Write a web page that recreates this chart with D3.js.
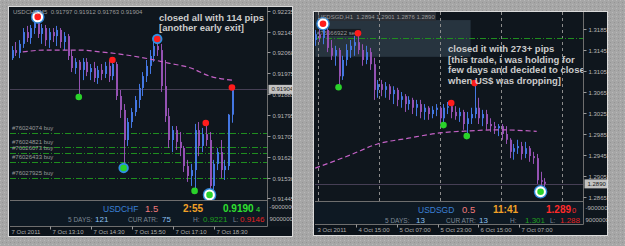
<!DOCTYPE html>
<html>
<head>
<meta charset="utf-8">
<script src="https://cdn.jsdelivr.net/npm/d3@7"></script>
<style>
  html, body { margin: 0; padding: 0; background: #a5a5a5; overflow: hidden; }
  svg { display: block; font-family: 'Liberation Sans', Arial, sans-serif; }
</style>
</head>
<body>
<svg id="chart" width="625" height="246"></svg>
<script>
// ---------- left chart: USDCHF M5 ----------
const chfTitle = 'USDCHF,M5  0.91797 0.91912 0.91763 0.91904'
const chfPriceTicks = [0.92235, 0.92145, 0.9206, 0.91975, 0.91885, 0.91795, 0.91705, 0.9162, 0.9153, 0.91445]
const chfLast = 0.91904
// [open, high, low, close]
const chfBars = [
  [0.92036, 0.92087, 0.92028, 0.92070], [0.92070, 0.92104, 0.92045, 0.92058], [0.92058, 0.92112, 0.92036, 0.92096],
  [0.92096, 0.92163, 0.92079, 0.92146], [0.92146, 0.92172, 0.92104, 0.92121], [0.92121, 0.92176, 0.92096, 0.92163],
  [0.92163, 0.92197, 0.92138, 0.92189], [0.92189, 0.92210, 0.92121, 0.92138], [0.92138, 0.92180, 0.92096, 0.92163],
  [0.92163, 0.92176, 0.92087, 0.92112], [0.92112, 0.92163, 0.92079, 0.92146], [0.92146, 0.92163, 0.92104, 0.92129],
  [0.92129, 0.92172, 0.92087, 0.92155], [0.92155, 0.92163, 0.92079, 0.92104], [0.92104, 0.92146, 0.92070, 0.92129],
  [0.92129, 0.92138, 0.92028, 0.92045], [0.92045, 0.92070, 0.91977, 0.91994], [0.91994, 0.92036, 0.91969, 0.92020],
  [0.92020, 0.92028, 0.91872, 0.91986], [0.91986, 0.92036, 0.91943, 0.92020], [0.92020, 0.92036, 0.91960, 0.91977],
  [0.91977, 0.92011, 0.91943, 0.91994], [0.91994, 0.92020, 0.91935, 0.91952], [0.91952, 0.92003, 0.91927, 0.91986],
  [0.91986, 0.92011, 0.91943, 0.91969], [0.91969, 0.92020, 0.91952, 0.92003], [0.92003, 0.92028, 0.91935, 0.91960],
  [0.91960, 0.92028, 0.91943, 0.92011], [0.92011, 0.92020, 0.91859, 0.91876], [0.91876, 0.91901, 0.91783, 0.91817],
  [0.91817, 0.91842, 0.91572, 0.91690], [0.91690, 0.91783, 0.91665, 0.91766], [0.91766, 0.91825, 0.91741, 0.91808],
  [0.91808, 0.91876, 0.91791, 0.91859], [0.91859, 0.91927, 0.91825, 0.91910], [0.91910, 0.91977, 0.91876, 0.91960],
  [0.91960, 0.92028, 0.91935, 0.92003], [0.92003, 0.92070, 0.91969, 0.92045], [0.92045, 0.92104, 0.92020, 0.92087],
  [0.92087, 0.92117, 0.92045, 0.92070], [0.92070, 0.92096, 0.91893, 0.91918], [0.91918, 0.92028, 0.91766, 0.91791],
  [0.91791, 0.91825, 0.91656, 0.91690], [0.91690, 0.91749, 0.91639, 0.91732], [0.91732, 0.91749, 0.91648, 0.91682],
  [0.91682, 0.91724, 0.91622, 0.91656], [0.91656, 0.91665, 0.91555, 0.91580], [0.91580, 0.91606, 0.91513, 0.91538],
  [0.91538, 0.91589, 0.91496, 0.91563], [0.91563, 0.91758, 0.91475, 0.91732], [0.91732, 0.91766, 0.91622, 0.91665],
  [0.91665, 0.91741, 0.91639, 0.91715], [0.91715, 0.91762, 0.91665, 0.91690], [0.91690, 0.91724, 0.91458, 0.91496],
  [0.91496, 0.91606, 0.91479, 0.91589], [0.91589, 0.91656, 0.91563, 0.91639], [0.91639, 0.91690, 0.91529, 0.91563],
  [0.91563, 0.91606, 0.91521, 0.91580], [0.91580, 0.91800, 0.91563, 0.91797], [0.91797, 0.91912, 0.91763, 0.91904],
]
// moving average read at a few bars: [bar, price]
const chfMa = [[3, 0.92062], [9, 0.92070], [18, 0.92070], [24, 0.92062], [29, 0.92053], [37, 0.92032], [42, 0.92015], [48, 0.91994], [53, 0.91960], [59, 0.91943]]
const chfOrders = [[0.91719, '#76024074 buy'], [0.9166, '#76024821 buy'], [0.91635, '#76026073 buy'], [0.91597, '#76026433 buy'], [0.91529, '#76027925 buy']]
// [bar, side, ring]
const chfSignals = [[7, 'sell', 'white'], [18, 'buy', ''], [27, 'sell', ''], [30, 'buy', 'blue'], [39, 'sell', 'blue'], [49, 'buy', ''], [52, 'sell', ''], [53, 'buy', 'white'], [59, 'sell', '']]
const chfBarSpan = [new Date(2011, 9, 7, 11, 55), new Date(2011, 9, 7, 19, 5)]
const chfTimeTicks = [new Date(2011, 9, 7, 11, 50), new Date(2011, 9, 7, 13, 10), new Date(2011, 9, 7, 14, 30), new Date(2011, 9, 7, 15, 50), new Date(2011, 9, 7, 17, 10), new Date(2011, 9, 7, 18, 30)]
const chfTimeLabels = ['7 Oct 2011', '7 Oct 13:10', '7 Oct 14:30', '7 Oct 15:50', '7 Oct 17:10', '7 Oct 18:30']
const chfNote = ['closed all with 114 pips', '[another early exit]']
const chfStats = ['USDCHF', '1.5', '2:55', '0.9190', '4', '121', '75', '0.9221', '0.9146']

// ---------- right chart: USDSGD H1 ----------
const sgdTitle = 'USDSGD,H1  1.2894 1.2901 1.2876 1.2890'
const sgdPriceTicks = [1.3185, 1.3145, 1.3105, 1.3065, 1.3025, 1.2985, 1.2945, 1.2905, 1.2865]
const sgdLast = 1.289
const sgdBars = [
  [1.3164, 1.3183, 1.3153, 1.3175], [1.3175, 1.3191, 1.3160, 1.3168], [1.3168, 1.3195, 1.3156, 1.3183],
  [1.3183, 1.3187, 1.3141, 1.3149], [1.3149, 1.3164, 1.3126, 1.3134], [1.3134, 1.3153, 1.3115, 1.3145],
  [1.3145, 1.3149, 1.3074, 1.3095], [1.3095, 1.3134, 1.3088, 1.3126], [1.3126, 1.3156, 1.3115, 1.3145],
  [1.3145, 1.3164, 1.3130, 1.3153], [1.3153, 1.3172, 1.3134, 1.3160], [1.3160, 1.3177, 1.3137, 1.3145],
  [1.3145, 1.3156, 1.3115, 1.3126], [1.3126, 1.3153, 1.3118, 1.3141], [1.3141, 1.3149, 1.3107, 1.3118],
  [1.3118, 1.3130, 1.3050, 1.3069], [1.3069, 1.3088, 1.3054, 1.3080], [1.3080, 1.3088, 1.3057, 1.3069],
  [1.3069, 1.3084, 1.3054, 1.3076], [1.3076, 1.3080, 1.3050, 1.3061], [1.3061, 1.3076, 1.3042, 1.3069],
  [1.3069, 1.3073, 1.3038, 1.3050], [1.3050, 1.3065, 1.3035, 1.3057], [1.3057, 1.3061, 1.3027, 1.3042],
  [1.3042, 1.3057, 1.3031, 1.3050], [1.3050, 1.3054, 1.3023, 1.3035], [1.3035, 1.3050, 1.3019, 1.3042],
  [1.3042, 1.3050, 1.3015, 1.3027], [1.3027, 1.3042, 1.3012, 1.3035], [1.3035, 1.3038, 1.3012, 1.3023],
  [1.3023, 1.3038, 1.3015, 1.3031], [1.3031, 1.3042, 1.3019, 1.3035], [1.3035, 1.3038, 1.3004, 1.3015],
  [1.3015, 1.3042, 1.3002, 1.3035], [1.3035, 1.3046, 1.3023, 1.3038], [1.3038, 1.3044, 1.3015, 1.3027],
  [1.3027, 1.3038, 1.3012, 1.3019], [1.3019, 1.3035, 1.3008, 1.3027], [1.3027, 1.3031, 1.2993, 1.3004],
  [1.3004, 1.3027, 1.2981, 1.3015], [1.3015, 1.3035, 1.3004, 1.3023], [1.3023, 1.3082, 1.3015, 1.3035],
  [1.3035, 1.3054, 1.3004, 1.3015], [1.3015, 1.3031, 1.3000, 1.3023], [1.3023, 1.3031, 1.2993, 1.3004],
  [1.3004, 1.3015, 1.2989, 1.3000], [1.3000, 1.3008, 1.2985, 1.2996], [1.2996, 1.3004, 1.2981, 1.3000],
  [1.3000, 1.3004, 1.2974, 1.2985], [1.2985, 1.3000, 1.2966, 1.2974], [1.2974, 1.2977, 1.2939, 1.2951],
  [1.2951, 1.2966, 1.2936, 1.2958], [1.2958, 1.2974, 1.2947, 1.2962], [1.2962, 1.2970, 1.2936, 1.2947],
  [1.2947, 1.2970, 1.2939, 1.2958], [1.2958, 1.2962, 1.2932, 1.2943], [1.2943, 1.2951, 1.2928, 1.2939],
  [1.2939, 1.2947, 1.2890, 1.2897], [1.2897, 1.2913, 1.2875, 1.2894], [1.2894, 1.2901, 1.2876, 1.2890],
]
const sgdMa = [[0, 1.2920], [9, 1.2945], [16, 1.2966], [24, 1.2977], [32, 1.2987], [40, 1.2991], [47, 1.2993], [57, 1.2990]]
const sgdOrders = [[1.3168, '#76666922 sell']]
const sgdSignals = [[2, 'sell', 'white'], [6, 'buy', ''], [11, 'sell', ''], [33, 'buy', ''], [35, 'sell', ''], [39, 'buy', ''], [41, 'sell', ''], [58, 'buy', 'white']]
const sgdZone = [new Date(2011, 9, 3, 23, 0), new Date(2011, 9, 6, 12, 0), 1.3202, 1.3132]
const sgdSeparators = [new Date(2011, 9, 4), new Date(2011, 9, 5), new Date(2011, 9, 6), new Date(2011, 9, 7), new Date(2011, 9, 8)]
const sgdBarSpan = [new Date(2011, 9, 3, 23, 0), new Date(2011, 9, 7, 17, 0)]
const sgdTimeTicks = [new Date(2011, 9, 3, 23, 0), new Date(2011, 9, 4, 15, 0), new Date(2011, 9, 5, 7, 0), new Date(2011, 9, 5, 23, 0), new Date(2011, 9, 6, 15, 0), new Date(2011, 9, 7, 7, 0)]
const sgdTimeLabels = ['3 Oct 2011', '4 Oct 15:00', '5 Oct 07:00', '5 Oct 23:00', '6 Oct 15:00', '7 Oct 07:00']
const sgdNote = ['closed it with 273+ pips', '[this trade, i was holding for', 'few days and decided to close', 'when US$ was dropping]']
const sgdStats = ['USDSGD', '0.5', '11:41', '1.289', '0', '13', '13', '1.301', '1.288']

const UP = '#4477e2'
const DOWN = '#9552b3'

const svg = d3.select('#chart')
const defs = svg.append('defs')

// speckled gray backdrop
const bgPat = defs.append('pattern').attr('id', 'bgdots')
  .attr('width', 4).attr('height', 4).attr('patternUnits', 'userSpaceOnUse')
bgPat.append('rect').attr('width', 4).attr('height', 4).attr('fill', '#a6a6a6')
bgPat.append('rect').attr('x', 0).attr('y', 0).attr('width', 1).attr('height', 1).attr('fill', '#b9b9b9')
bgPat.append('rect').attr('x', 2).attr('y', 2).attr('width', 1).attr('height', 1).attr('fill', '#949494')
svg.append('rect').attr('width', 625).attr('height', 246).attr('fill', 'url(#bgdots)')

function drawPanel(c) {
  const clipId = c.id + '-clip'
  const plotClip = c.id + '-plot'
  defs.append('clipPath').attr('id', clipId).append('rect')
    .attr('x', c.left).attr('y', c.top).attr('width', c.right - c.left).attr('height', c.bottom - c.top)
  defs.append('clipPath').attr('id', plotClip).append('rect')
    .attr('x', c.plotLeft).attr('y', c.top).attr('width', c.axisX - c.plotLeft).attr('height', c.subTop - c.top)

  svg.append('rect')
    .attr('x', c.left - 0.5).attr('y', c.top - 0.5)
    .attr('width', c.right - c.left + 1).attr('height', c.bottom - c.top + 1)
    .attr('fill', '#0f161d').attr('stroke', '#dadada')

  const g = svg.append('g').attr('clip-path', `url(#${clipId})`)
  const y = d3.scaleLinear().domain(c.priceDomain).range(c.priceRange)
  const t = d3.scaleTime().domain(c.timeDomain).range(c.timeRange)
  const x = d3.scaleLinear().domain([0, c.bars.length - 1]).range(c.barSpan.map(t))

  // sub-window and time strip
  g.append('rect').attr('x', c.plotLeft).attr('y', c.subTop).attr('width', c.axisX - c.plotLeft).attr('height', c.subBottom - c.subTop).attr('fill', '#0e1923')
  g.append('rect').attr('x', c.left).attr('y', c.subBottom).attr('width', c.right - c.left).attr('height', c.bottom - c.subBottom).attr('fill', '#0c131a')

  const plot = g.append('g').attr('clip-path', `url(#${plotClip})`)

  if (c.zone) {
    plot.append('rect')
      .attr('x', t(c.zone[0])).attr('y', y(c.zone[2]))
      .attr('width', t(c.zone[1]) - t(c.zone[0])).attr('height', y(c.zone[3]) - y(c.zone[2]))
      .attr('fill', '#27343f')
  }
  if (c.title && c.titleBox) {
    plot.append('rect').attr('x', c.plotLeft).attr('y', c.top).attr('width', 121).attr('height', 9).attr('fill', '#2a2f36')
  }

  if (c.separators) {
    plot.selectAll('line.sep').data(c.separators).join('line')
      .attr('x1', d => Math.round(t(d)) + 0.5).attr('x2', d => Math.round(t(d)) + 0.5)
      .attr('y1', c.top).attr('y2', c.subTop)
      .attr('stroke', '#8c8c8c').attr('stroke-dasharray', '3,3')
  }

  // bid line
  plot.append('line')
    .attr('x1', c.plotLeft).attr('x2', c.axisX)
    .attr('y1', Math.round(y(c.last)) + 0.5).attr('y2', Math.round(y(c.last)) + 0.5)
    .attr('stroke', '#463f55')

  // order lines
  const ord = plot.selectAll('g.ord').data(c.orders).join('g')
  ord.append('line')
    .attr('x1', c.plotLeft).attr('x2', c.axisX)
    .attr('y1', d => Math.round(y(d[0])) + 0.5).attr('y2', d => Math.round(y(d[0])) + 0.5)
    .attr('stroke', '#1f8e1f').attr('stroke-dasharray', '6,2,1,2')
  ord.append('rect')
    .attr('x', c.plotLeft + 1).attr('y', d => y(d[0]) - 9)
    .attr('width', d => d[1].length * 3.2).attr('height', 7)
    .attr('fill', c.labelBg)
  ord.append('text')
    .attr('x', c.plotLeft + 2).attr('y', d => y(d[0]) - 3)
    .attr('font-size', 6).attr('fill', '#9a9a9a')
    .text(d => d[1])

  // candles
  const candle = plot.selectAll('g.bar').data(c.bars).join('g')
  candle.append('line')
    .attr('x1', (d, i) => Math.round(x(i)) + 0.5).attr('x2', (d, i) => Math.round(x(i)) + 0.5)
    .attr('y1', d => y(d[1])).attr('y2', d => y(d[2]))
    .attr('stroke', d => (d[3] >= d[0] ? UP : DOWN))
  candle.append('rect')
    .attr('x', (d, i) => Math.round(x(i)))
    .attr('y', d => y(Math.max(d[0], d[3])))
    .attr('width', 2)
    .attr('height', d => Math.max(1, Math.abs(y(d[0]) - y(d[3]))))
    .attr('fill', d => (d[3] >= d[0] ? UP : DOWN))

  // moving average
  plot.append('path').datum(c.ma)
    .attr('d', d3.line().x(d => x(d[0])).y(d => y(d[1])).curve(d3.curveMonotoneX))
    .attr('fill', 'none').attr('stroke', '#c462c6').attr('stroke-width', 1.2)
    .attr('stroke-dasharray', '5,3')

  // signal arrows
  const sig = plot.selectAll('g.sig').data(c.signals).join('g')
    .attr('transform', d => `translate(${x(d[0])},${y(d[1] === 'sell' ? c.bars[d[0]][1] : c.bars[d[0]][2])})`)
  sig.filter(d => d[2] === 'white').append('circle').attr('r', 6.8).attr('fill', '#2f86d8')
  sig.filter(d => d[2] === 'white').append('circle').attr('r', 5.4).attr('fill', '#ffffff')
  sig.filter(d => d[2] === 'blue').append('circle').attr('r', 5.2).attr('fill', '#2f8fe0')
  sig.append('circle').attr('r', 3.3).attr('fill', d => (d[1] === 'sell' ? '#ff1c1c' : '#2ad22a'))

  // notes
  plot.selectAll('text.note').data(c.note).join('text')
    .attr('x', c.noteX).attr('y', (d, i) => c.noteY + i * c.noteStep)
    .attr('font-size', 9.5).attr('font-weight', 'bold').attr('fill', '#cbcbcb')
    .text(d => d)

  // title
  plot.append('text').attr('x', c.plotLeft + 3).attr('y', c.top + 7)
    .attr('font-size', 6).attr('fill', '#9c9c9c').attr('xml:space', 'preserve').text(c.title)

  // frame lines
  g.append('line').attr('x1', c.axisX).attr('x2', c.axisX).attr('y1', c.top).attr('y2', c.subBottom).attr('stroke', '#6e6e6e')
  g.append('line').attr('x1', c.plotLeft).attr('x2', c.axisX).attr('y1', c.subTop).attr('y2', c.subTop).attr('stroke', '#6e6e6e')
  g.append('line').attr('x1', c.plotLeft).attr('x2', c.axisX).attr('y1', c.subBottom).attr('y2', c.subBottom).attr('stroke', '#6e6e6e')

  // price axis
  const pa = g.selectAll('g.pt').data(c.priceTicks).join('g')
    .attr('transform', d => `translate(${c.axisX},${Math.round(y(d)) + 0.5})`)
  pa.append('line').attr('x1', 0).attr('x2', 3).attr('stroke', '#9a9a9a')
  pa.append('text').attr('x', 5).attr('dy', '0.35em').attr('font-size', 6).attr('fill', '#b8b8b8')
    .text(d => d.toFixed(c.digits))
  const cur = g.append('g').attr('transform', `translate(${c.axisX},${y(c.last)})`)
  cur.append('rect').attr('x', 1).attr('y', -4.5).attr('width', 24).attr('height', 9).attr('fill', '#c2c2c2')
  cur.append('text').attr('x', 4).attr('dy', '0.35em').attr('font-size', 6).attr('fill', '#161616')
    .text(c.last.toFixed(c.digits))
  g.append('text').attr('x', c.axisX + 2).attr('y', c.subTop + 8).attr('font-size', 6).attr('fill', '#b8b8b8').text('-90000000')
  g.append('text').attr('x', c.axisX + 2).attr('y', c.subTop + 20).attr('font-size', 6).attr('fill', '#b8b8b8').text('90000000')

  // time axis
  const ta = g.selectAll('g.tt').data(c.timeTicks).join('g')
    .attr('transform', d => `translate(${Math.round(t(d)) + 0.5},${c.subBottom})`)
  ta.filter((d, i) => i > 0).append('line').attr('y1', 0).attr('y2', 3).attr('stroke', '#9a9a9a')
  ta.append('text').attr('x', 2).attr('y', 7).attr('font-size', 6).attr('fill', '#adadad')
    .text((d, i) => c.timeLabels[i])

  // info panel
  const s = c.stats
  const line1 = c.subTop + 11.5
  const line2 = c.subTop + 21.5
  const info = [
    [s[0], c.info[0], line1, 8.5, 'normal', '#3b80d6'],
    [s[1], c.info[1], line1, 9.5, 'normal', '#f07a7a'],
    [s[2], c.info[2], line1, 10, 'bold', '#f2a127'],
    [s[3], c.info[3], line1, 10, 'bold', c.priceColor],
    [s[4], c.info[4], line1, 7.5, 'normal', c.priceColor],
    ['5 DAYS:', c.info[5], line2, 6.5, 'normal', '#7d8894'],
    [s[5], c.info[6], line2, 8, 'normal', '#8cc0f2'],
    ['CUR ATR:', c.info[7], line2, 6.5, 'normal', '#7d8894'],
    [s[6], c.info[8], line2, 8, 'normal', '#8cc0f2'],
    ['H:', c.info[9], line2, 6.5, 'normal', '#7d8894'],
    [s[7], c.info[10], line2, 8, 'normal', '#1f9f1f'],
    ['L:', c.info[11], line2, 6.5, 'normal', '#7d8894'],
    [s[8], c.info[12], line2, 8, 'normal', '#e32222'],
  ]
  g.selectAll('text.info').data(info).join('text')
    .attr('x', d => d[1]).attr('y', d => d[2])
    .attr('font-size', d => d[3]).attr('font-weight', d => d[4]).attr('fill', d => d[5])
    .text(d => d[0])
}

drawPanel({
  id: 'chf',
  left: 9, top: 7, right: 292, bottom: 236,
  plotLeft: 10, axisX: 267.5, subTop: 200.5, subBottom: 226.5,
  priceDomain: [0.91445, 0.92235], priceRange: [198, 11], digits: 5,
  timeDomain: [new Date(2011, 9, 7, 13, 10), new Date(2011, 9, 7, 18, 30)], timeRange: [50, 214],
  bars: chfBars, barSpan: chfBarSpan, ma: chfMa, orders: chfOrders, signals: chfSignals,
  last: chfLast, priceTicks: chfPriceTicks, timeTicks: chfTimeTicks, timeLabels: chfTimeLabels,
  title: chfTitle, titleBox: false, labelBg: 'none',
  note: chfNote, noteX: 159, noteY: 20.5, noteStep: 10.5,
  stats: chfStats, priceColor: '#2fe02f',
  info: [103, 145, 183, 223, 256, 68, 95, 128, 162, 193, 203, 233, 240],
})

drawPanel({
  id: 'sgd',
  left: 314, top: 12, right: 607, bottom: 235,
  plotLeft: 315, axisX: 583.5, subTop: 201.5, subBottom: 224.5,
  priceDomain: [1.2865, 1.3185], priceRange: [197, 29], digits: 4,
  timeDomain: [new Date(2011, 9, 4, 15, 0), new Date(2011, 9, 7, 7, 0)], timeRange: [356, 519],
  bars: sgdBars, barSpan: sgdBarSpan, ma: sgdMa, orders: sgdOrders, signals: sgdSignals,
  zone: sgdZone, separators: sgdSeparators,
  last: sgdLast, priceTicks: sgdPriceTicks, timeTicks: sgdTimeTicks, timeLabels: sgdTimeLabels,
  title: sgdTitle, titleBox: true, labelBg: '#161c22',
  note: sgdNote, noteX: 448, noteY: 52, noteStep: 10.5,
  stats: sgdStats, priceColor: '#ff2a2a',
  info: [418, 462, 493, 546, 572, 385, 416, 446, 479, 510, 525, 550, 560],
})
</script>
</body>
</html>
